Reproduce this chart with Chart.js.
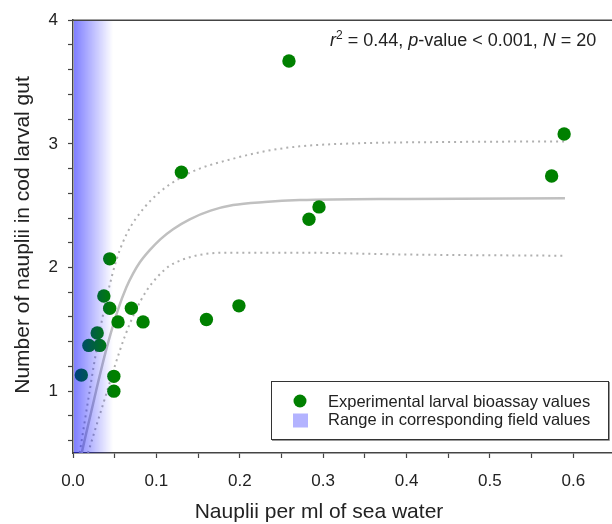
<!DOCTYPE html>
<html lang="en">
<head>
    <meta charset="UTF-8">
    <title>Nauplii vs larval gut content</title>
    <script src="https://cdn.jsdelivr.net/npm/chart.js@4.4.1/dist/chart.umd.min.js"></script>
    <style>
        html, body { margin: 0; padding: 0; background: #fff; overflow: hidden; }
        #wrap { width: 615px; height: 524px; }
    </style>
</head>
<body>
    <div id="wrap"><canvas id="chart" width="615" height="524"></canvas></div>
    <script>
        // bioassay points
        const pointX = [0.010, 0.019, 0.029, 0.032, 0.037, 0.044, 0.044, 0.049, 0.049, 0.054,
                        0.070, 0.084, 0.130, 0.160, 0.199, 0.259, 0.283, 0.295, 0.574, 0.589];
        const pointY = [1.13, 1.37, 1.47, 1.37, 1.77, 2.07, 1.67, 1.12, 1.00, 1.56,
                        1.67, 1.56, 2.77, 1.58, 1.69, 3.67, 2.39, 2.49, 2.74, 3.08];

        // fitted curve and its confidence band
        const fitX = [0.0104, 0.0276, 0.040, 0.054, 0.064, 0.072, 0.080, 0.092, 0.105, 0.120, 0.140, 0.165, 0.192, 0.230, 0.272, 0.40, 0.59];
        const fitY = [0.50, 1.00, 1.34, 1.66, 1.84, 1.95, 2.04, 2.14, 2.23, 2.31, 2.39, 2.46, 2.505, 2.53, 2.545, 2.555, 2.56];
        const upperX = [0.008, 0.018, 0.026, 0.034, 0.043, 0.052, 0.065, 0.085, 0.104, 0.130, 0.152, 0.192, 0.230, 0.272, 0.344, 0.45, 0.59];
        const upperY = [0.50, 0.92, 1.25, 1.55, 1.83, 2.06, 2.28, 2.48, 2.61, 2.73, 2.80, 2.88, 2.94, 2.98, 3.005, 3.015, 3.02];
        const lowerX = [0.018, 0.028, 0.040, 0.050, 0.062, 0.075, 0.088, 0.102, 0.115, 0.130, 0.150, 0.184, 0.272, 0.40, 0.59];
        const lowerY = [0.50, 0.72, 0.98, 1.20, 1.44, 1.65, 1.81, 1.93, 2.01, 2.06, 2.10, 2.12, 2.12, 2.105, 2.095];

        // range in field values (x)
        const fieldRange = [0, 0.048];

        // ticks
        const xTicks = [0, 0.05, 0.1, 0.15, 0.2, 0.25, 0.3, 0.35, 0.4, 0.45, 0.5, 0.55, 0.6, 0.65];
        const yTicks = [0.6, 0.8, 1.0, 1.2, 1.4, 1.6, 1.8, 2.0, 2.2, 2.4, 2.6, 2.8, 3.0, 3.2, 3.4, 3.6, 3.8, 4.0];

        const xTitle = 'Nauplii per ml of sea water';
        const yTitle = 'Number of nauplii in cod larval gut';
        const legendLabels = ['Experimental larval bioassay values', 'Range in corresponding field values'];
        // r^2 = 0.44, p-value < 0.001, N = 20
        const statsParts = [
            { t: 'r', italic: true }, { t: '2', sup: true }, { t: ' = 0.44, ' },
            { t: 'p', italic: true }, { t: '-value < 0.001, ' },
            { t: 'N', italic: true }, { t: ' = 20' }
        ];

        const toXY = (xs, ys) => xs.map((x, i) => ({ x, y: ys[i] }));
        const FONT = '"Liberation Sans", Arial, sans-serif';
        const GREEN = '#008000';

        const annotations = {
            id: 'annotations',
            afterDatasetsDraw(chart) {
                const { ctx, chartArea: a, scales: { x, y } } = chart;
                // blue band, drawn on top so points inside take the tint
                const x0 = x.getPixelForValue(fieldRange[0]) + 1;
                const x1 = x.getPixelForValue(fieldRange[1]);
                const g = ctx.createLinearGradient(x0, 0, x1, 0);
                g.addColorStop(0, 'rgba(0,0,255,0.5)');
                g.addColorStop(1, 'rgba(0,0,255,0)');
                ctx.save();
                ctx.fillStyle = g;
                ctx.fillRect(x0, a.top, x1 - x0, a.bottom - a.top);
                // top frame
                ctx.strokeStyle = '#444';
                ctx.lineWidth = 1.5;
                ctx.beginPath();
                ctx.moveTo(a.left, a.top);
                ctx.lineTo(a.right, a.top);
                ctx.stroke();

                // legend box
                const lx = 271, ly = 381, lw = 337, lh = 58;
                ctx.fillStyle = '#fff';
                ctx.fillRect(lx, ly, lw, lh);
                ctx.strokeStyle = '#999';
                ctx.lineWidth = 1;
                ctx.beginPath();
                ctx.moveTo(lx + 1, ly + lh + 1.5);
                ctx.lineTo(lx + lw + 1.5, ly + lh + 1.5);
                ctx.lineTo(lx + lw + 1.5, ly + 1);
                ctx.stroke();
                ctx.strokeStyle = '#333';
                ctx.strokeRect(lx + 0.5, ly + 0.5, lw, lh);
                ctx.fillStyle = GREEN;
                ctx.beginPath();
                ctx.arc(300, 401, 6.5, 0, Math.PI * 2);
                ctx.fill();
                ctx.fillStyle = '#b3b3ff';
                ctx.fillRect(293, 413.5, 15, 14);
                ctx.fillStyle = '#222';
                ctx.font = '16.5px ' + FONT;
                ctx.textBaseline = 'alphabetic';
                ctx.textAlign = 'left';
                ctx.fillText(legendLabels[0], 328, 406.5);
                ctx.fillText(legendLabels[1], 328, 425);

                // stats text
                let px = 330;
                statsParts.forEach(p => {
                    if (p.sup) {
                        ctx.font = '12px ' + FONT;
                        ctx.fillText(p.t, px, 38.5);
                    } else {
                        ctx.font = (p.italic ? 'italic ' : '') + '18px ' + FONT;
                        ctx.fillText(p.t, px, 45.5);
                    }
                    px += ctx.measureText(p.t).width;
                });
                ctx.restore();
            },
            afterDraw(chart) {
                const { ctx } = chart;
                ctx.save();
                ctx.fillStyle = '#222';
                ctx.font = '21px ' + FONT;
                ctx.textAlign = 'center';
                ctx.textBaseline = 'alphabetic';
                ctx.fillText(xTitle, 319, 518);
                ctx.translate(29, 235);
                ctx.rotate(-Math.PI / 2);
                ctx.fillText(yTitle, 0, 0);
                ctx.restore();
            }
        };

        new Chart(document.getElementById('chart').getContext('2d'), {
            type: 'scatter',
            data: {
                datasets: [
                    { label: legendLabels[0], data: toXY(pointX, pointY), backgroundColor: GREEN, borderColor: GREEN, borderWidth: 0, pointRadius: 6.7, pointHoverRadius: 6.7 },
                    { label: 'fit', data: toXY(fitX, fitY), showLine: true, pointRadius: 0, borderColor: '#c0c0c0', borderWidth: 2.5, cubicInterpolationMode: 'monotone' },
                    { label: 'upper', data: toXY(upperX, upperY), showLine: true, pointRadius: 0, borderColor: '#b0b0b0', borderWidth: 2, borderDash: [2, 4], cubicInterpolationMode: 'monotone' },
                    { label: 'lower', data: toXY(lowerX, lowerY), showLine: true, pointRadius: 0, borderColor: '#b0b0b0', borderWidth: 2, borderDash: [2, 4], cubicInterpolationMode: 'monotone' }
                ]
            },
            options: {
                responsive: false,
                animation: false,
                layout: { autoPadding: false, padding: { top: 20, right: 0, left: 0, bottom: 0 } },
                plugins: { legend: { display: false }, tooltip: { enabled: false } },
                scales: {
                    x: {
                        type: 'linear', min: 0, max: 0.65,
                        afterBuildTicks: s => { s.ticks = xTicks.map(v => ({ value: v })); },
                        afterFit: s => { s.height = 71; s.paddingLeft = 0; s.paddingRight = 0; },
                        border: { color: '#444', width: 1.5 },
                        grid: { drawOnChartArea: false, tickLength: 5, tickColor: '#444', tickWidth: 1.2 },
                        ticks: {
                            autoSkip: false, maxRotation: 0, padding: 13, color: '#222',
                            font: { family: FONT, size: 17 },
                            callback: v => (Math.abs(v * 10 - Math.round(v * 10)) < 1e-6 && v < 0.62) ? v.toFixed(1) : ''
                        }
                    },
                    y: {
                        type: 'linear', min: 0.5, max: 4,
                        afterBuildTicks: s => { s.ticks = yTicks.map(v => ({ value: v })); },
                        afterFit: s => { s.width = 73; },
                        border: { color: '#444', width: 1.5 },
                        grid: { drawOnChartArea: false, tickLength: 5, tickColor: '#444', tickWidth: 1.2 },
                        ticks: {
                            autoSkip: false, padding: 10, color: '#222',
                            font: { family: FONT, size: 17 },
                            callback: v => Math.abs(v - Math.round(v)) < 1e-6 ? String(Math.round(v)) : ''
                        }
                    }
                }
            },
            plugins: [annotations]
        });
    </script>
</body>
</html>
